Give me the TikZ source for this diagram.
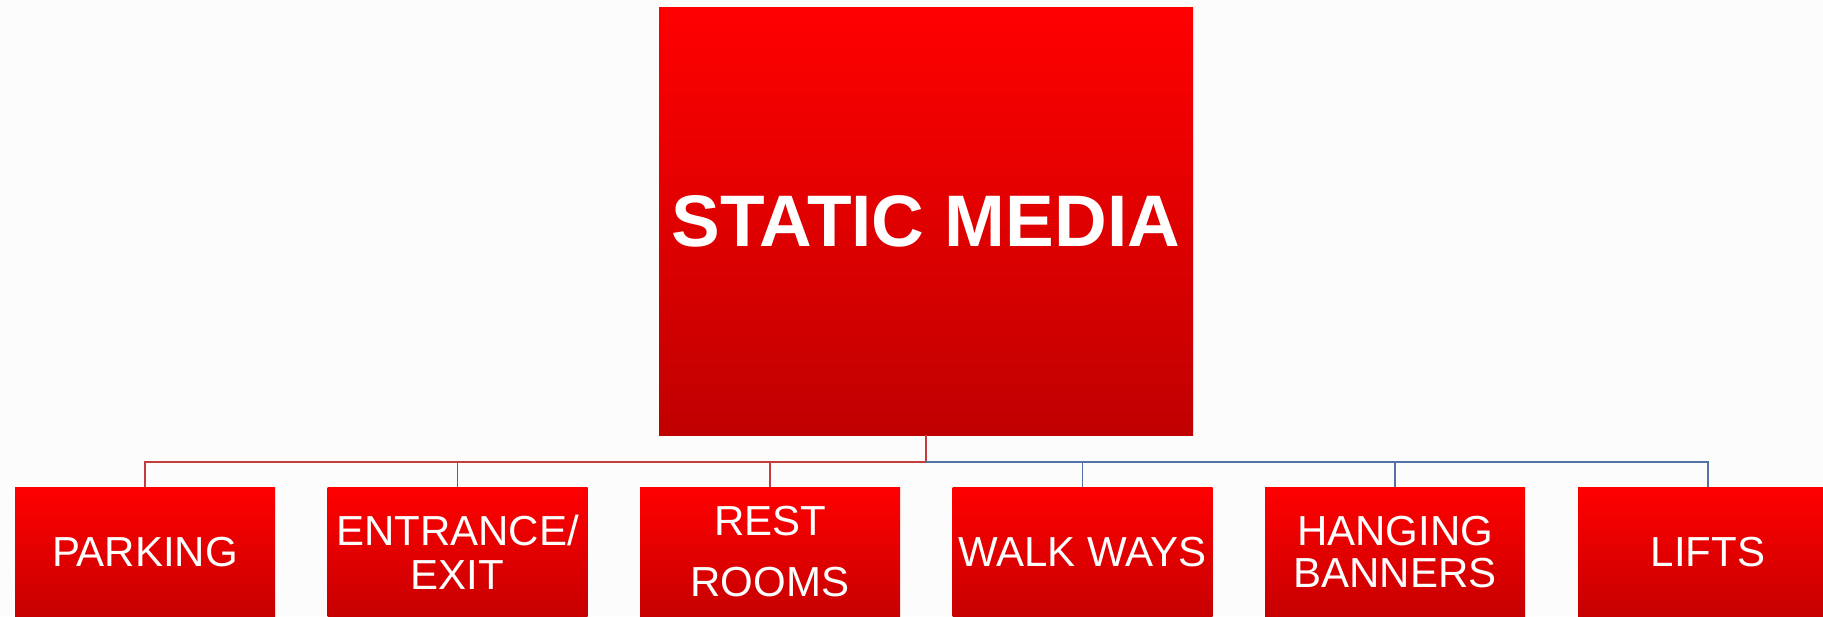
\documentclass[tikz,border=0pt]{standalone}
\usepackage{fontspec}
\setmainfont{Liberation Sans}
\definecolor{bgc}{RGB}{252,252,252}
\definecolor{topred}{RGB}{255,0,0}
\definecolor{botred}{RGB}{192,0,0}
\definecolor{botred2}{RGB}{198,0,0}
\definecolor{linered}{RGB}{196,60,60}
\definecolor{lineblue}{RGB}{84,114,168}
\tikzset{
  mainbox/.style={draw=none, shading=axis, top color=topred, bottom color=botred,
    minimum width=534pt, minimum height=428pt, inner sep=0pt, text=white,
    font=\fontsize{73}{73}\selectfont\bfseries},
  leafbox/.style={draw=none, shading=axis, top color=topred, bottom color=botred2,
    minimum width=260pt, minimum height=129pt, inner sep=0pt, text=white, align=center,
    font=\fontsize{42}{44}\selectfont},
  redcon/.style={draw=linered, line width=1.5pt},
  bluecon/.style={draw=lineblue, line width=1.5pt},
}
\begin{document}
\begin{tikzpicture}[x=1pt,y=-1pt]
\useasboundingbox (0,0) rectangle (1823,616);
\clip (0,0) rectangle (1823,616);
\fill[bgc] (0,0) rectangle (1823,616);
\node[mainbox] (main) at (926,221) {STATIC MEDIA};
\node[leafbox] (b1) at (145,552) {PARKING};
\node[leafbox] (b2) at (457.5,552) {ENTRANCE/\\EXIT};
\node[leafbox] (b3) at (770,552) {REST\\[17pt]ROOMS};
\node[leafbox] (b4) at (1082.5,552) {WALK WAYS};
\node[leafbox, font=\fontsize{42}{42}\selectfont] (b5) at (1395,552) {HANGING\\BANNERS};
\node[leafbox] (b6) at (1708,552) {LIFTS};
\coordinate (j) at (926,462);
\draw[redcon] (main.south) -- (j);
\draw[redcon] (j) -| (b1.north);
\draw[redcon] (j) -| (b2.north);
\draw[redcon] (j) -| (b3.north);
\draw[bluecon] (j) -| (b4.north);
\draw[bluecon] (j) -| (b5.north);
\draw[bluecon] (j) -| (b6.north);
\end{tikzpicture}
\end{document}
